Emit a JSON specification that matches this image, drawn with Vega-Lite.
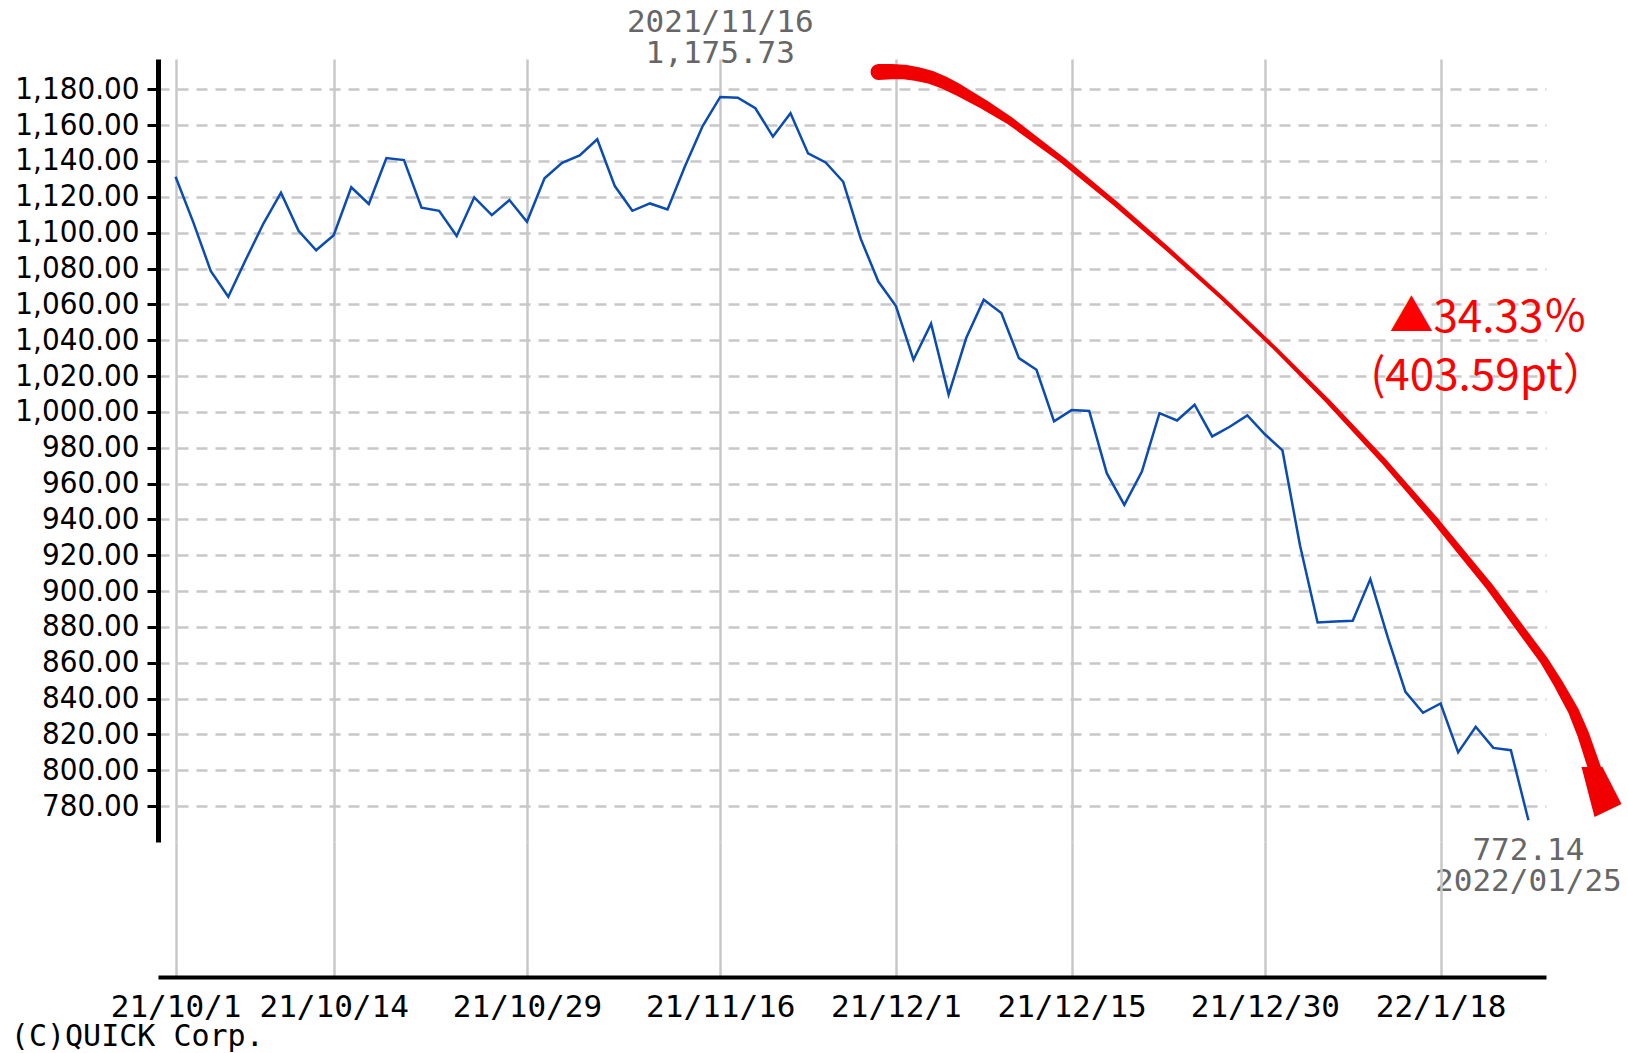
{
  "$schema": "https://vega.github.io/schema/vega-lite/v6.json",
  "background": "white",
  "padding": {"left": 10, "top": 6, "right": 0, "bottom": 0},
  "config": {"view": {"stroke": null}},
  "title": {"text": "(C)QUICK Corp.", "orient": "bottom", "anchor": "start", "frame": "bounds", "font": "DejaVu Sans Mono", "fontSize": 30, "fontWeight": "normal", "color": "black", "offset": 0, "dx": -4},
  "data": {"values": [
    {"d": "21/10/1", "v": 1131.2}, {"d": "21/10/4", "v": 1106}, {"d": "21/10/5", "v": 1078.7}, {"d": "21/10/6", "v": 1064.2},
    {"d": "21/10/7", "v": 1085}, {"d": "21/10/8", "v": 1105.1}, {"d": "21/10/11", "v": 1122.3}, {"d": "21/10/12", "v": 1101},
    {"d": "21/10/13", "v": 1090.2}, {"d": "21/10/14", "v": 1098.6}, {"d": "21/10/15", "v": 1125.3}, {"d": "21/10/18", "v": 1116},
    {"d": "21/10/19", "v": 1141.6}, {"d": "21/10/20", "v": 1140.5}, {"d": "21/10/21", "v": 1113.9}, {"d": "21/10/22", "v": 1112.2},
    {"d": "21/10/25", "v": 1098.1}, {"d": "21/10/26", "v": 1119.7}, {"d": "21/10/27", "v": 1109.8}, {"d": "21/10/28", "v": 1118.2},
    {"d": "21/10/29", "v": 1106.1}, {"d": "21/11/1", "v": 1130.3}, {"d": "21/11/2", "v": 1139}, {"d": "21/11/4", "v": 1143.1},
    {"d": "21/11/5", "v": 1152.1}, {"d": "21/11/8", "v": 1126}, {"d": "21/11/9", "v": 1112.2}, {"d": "21/11/10", "v": 1116.3},
    {"d": "21/11/11", "v": 1113}, {"d": "21/11/12", "v": 1137.2}, {"d": "21/11/15", "v": 1159.5}, {"d": "21/11/16", "v": 1175.73},
    {"d": "21/11/17", "v": 1175.3}, {"d": "21/11/18", "v": 1169.4}, {"d": "21/11/19", "v": 1153.6}, {"d": "21/11/22", "v": 1166.6},
    {"d": "21/11/24", "v": 1144.2}, {"d": "21/11/25", "v": 1139.2}, {"d": "21/11/26", "v": 1128.4}, {"d": "21/11/29", "v": 1096.5},
    {"d": "21/11/30", "v": 1072.7}, {"d": "21/12/1", "v": 1059}, {"d": "21/12/2", "v": 1029.1}, {"d": "21/12/3", "v": 1049.2},
    {"d": "21/12/6", "v": 1009.6}, {"d": "21/12/7", "v": 1041.2}, {"d": "21/12/8", "v": 1062.6}, {"d": "21/12/9", "v": 1055.2},
    {"d": "21/12/10", "v": 1030}, {"d": "21/12/13", "v": 1023.5}, {"d": "21/12/14", "v": 994.7}, {"d": "21/12/15", "v": 1001},
    {"d": "21/12/16", "v": 1000.5}, {"d": "21/12/17", "v": 965.8}, {"d": "21/12/20", "v": 948.1}, {"d": "21/12/21", "v": 966.7},
    {"d": "21/12/22", "v": 999.3}, {"d": "21/12/23", "v": 995.2}, {"d": "21/12/24", "v": 1004}, {"d": "21/12/27", "v": 986.3},
    {"d": "21/12/28", "v": 991.7}, {"d": "21/12/29", "v": 998}, {"d": "21/12/30", "v": 987.5}, {"d": "22/1/4", "v": 978.5},
    {"d": "22/1/5", "v": 925.4}, {"d": "22/1/6", "v": 882.5}, {"d": "22/1/7", "v": 883}, {"d": "22/1/11", "v": 883.4},
    {"d": "22/1/12", "v": 906.7}, {"d": "22/1/13", "v": 874}, {"d": "22/1/14", "v": 843.8}, {"d": "22/1/17", "v": 832.1},
    {"d": "22/1/18", "v": 837.3}, {"d": "22/1/19", "v": 810}, {"d": "22/1/20", "v": 824.3}, {"d": "22/1/21", "v": 812.5},
    {"d": "22/1/24", "v": 811.2}, {"d": "22/1/25", "v": 772.14}
  ]},
  "datasets": {
    "arrow": [
      {"s": 0, "x": 40.01, "y": 1189.65}, {"s": 1, "x": 40.75, "y": 1189.88}, {"s": 2, "x": 41.49, "y": 1189.65},
      {"s": 3, "x": 42.23, "y": 1188.43}, {"s": 4, "x": 42.97, "y": 1186.75}, {"s": 5, "x": 43.74, "y": 1183.74},
      {"s": 6, "x": 44.5, "y": 1179.94}, {"s": 7, "x": 46.01, "y": 1171.52}, {"s": 8, "x": 47.52, "y": 1162.2},
      {"s": 9, "x": 50.48, "y": 1140.44}, {"s": 10, "x": 53.5, "y": 1116.16}, {"s": 11, "x": 56.51, "y": 1090.43},
      {"s": 12, "x": 59.53, "y": 1063.82}, {"s": 13, "x": 62.55, "y": 1035.69}, {"s": 14, "x": 65.56, "y": 1006.12},
      {"s": 15, "x": 68.69, "y": 973.3}, {"s": 16, "x": 71.6, "y": 940.55}, {"s": 17, "x": 74.73, "y": 903.1},
      {"s": 18, "x": 77.86, "y": 861.64}, {"s": 19, "x": 78.71, "y": 848.14}, {"s": 20, "x": 79.56, "y": 833.18},
      {"s": 21, "x": 80.13, "y": 819.67}, {"s": 22, "x": 80.76, "y": 801.26}
    ],
    "head": [{"x": 81.16, "y": 787.87}],
    "note": [
      {"x": 74.72, "y": 1051.8, "t": "▲34.33％"},
      {"x": 74.73, "y": 1019.45, "t": "(403.59pt）"}
    ]
  },
  "spacing": 0,
  "bounds": "flush",
  "vconcat": [
    {
      "width": 1388,
      "height": 783,
      "layer": [
        {
          "encoding": {
            "x": {"field": "d", "type": "ordinal", "sort": null, "scale": {"type": "point", "padding": 1},
              "axis": {"labels": false, "ticks": false, "domain": false, "grid": true, "gridColor": "#c8c8c8", "gridWidth": 2.5, "title": null,
                "values": ["21/10/1", "21/10/14", "21/10/29", "21/11/16", "21/12/1", "21/12/15", "21/12/30", "22/1/18"]}},
            "y": {"field": "v", "type": "quantitative", "scale": {"domain": [760, 1196.9], "nice": false, "zero": false},
              "axis": {"values": [780, 800, 820, 840, 860, 880, 900, 920, 940, 960, 980, 1000, 1020, 1040, 1060, 1080, 1100, 1120, 1140, 1160, 1180],
                "format": ",.2f", "title": null, "domain": true, "domainColor": "black", "domainWidth": 5,
                "ticks": true, "tickColor": "black", "tickWidth": 3, "tickSize": 11, "labelPadding": 8,
                "labelFont": "DejaVu Sans Condensed, DejaVu Sans", "labelFontSize": 31, "labelColor": "black", "labelOverlap": false, "labelFlush": false,
                "grid": true, "gridColor": "#c8c8c8", "gridDash": [11, 8], "gridWidth": 2.5}}
          },
          "layer": [
            {"mark": {"type": "line", "color": "#0a4bb4", "strokeWidth": 2.5}},
            {"mark": {"type": "text", "dy": -74, "font": "DejaVu Sans Mono", "fontSize": 31, "color": "#666666", "align": "center", "baseline": "middle"},
              "encoding": {"text": {"condition": {"test": "datum.d == '21/11/16'", "value": "2021/11/16"}, "value": ""}}},
            {"mark": {"type": "text", "dy": -43, "font": "DejaVu Sans Mono", "fontSize": 31, "color": "#666666", "align": "center", "baseline": "middle"},
              "encoding": {"text": {"condition": {"test": "datum.d == '21/11/16'", "field": "v", "type": "quantitative", "format": ",.2f"}, "value": ""}}},
            {"mark": {"type": "text", "dy": 31, "font": "DejaVu Sans Mono", "fontSize": 31, "color": "#666666", "align": "center", "baseline": "middle"},
              "encoding": {"text": {"condition": {"test": "datum.d == '22/1/25'", "field": "v", "type": "quantitative", "format": ",.2f"}, "value": ""}}},
            {"mark": {"type": "text", "dy": 62, "font": "DejaVu Sans Mono", "fontSize": 31, "color": "#666666", "align": "center", "baseline": "middle"},
              "encoding": {"text": {"condition": {"test": "datum.d == '22/1/25'", "value": "2022/01/25"}, "value": ""}}}
          ]
        },
        {
          "encoding": {
            "x": {"field": "x", "type": "quantitative", "scale": {"domain": [-1, 78], "nice": false, "zero": false}, "axis": null},
            "y": {"field": "y", "type": "quantitative", "scale": {"domain": [760, 1196.9], "nice": false, "zero": false},
              "axis": {"values": [780, 800, 820, 840, 860, 880, 900, 920, 940, 960, 980, 1000, 1020, 1040, 1060, 1080, 1100, 1120, 1140, 1160, 1180],
                "format": ",.2f", "title": null, "domain": true, "domainColor": "black", "domainWidth": 5,
                "ticks": true, "tickColor": "black", "tickWidth": 3, "tickSize": 11, "labelPadding": 8,
                "labelFont": "DejaVu Sans Condensed, DejaVu Sans", "labelFontSize": 31, "labelColor": "black", "labelOverlap": false, "labelFlush": false,
                "grid": true, "gridColor": "#c8c8c8", "gridDash": [11, 8], "gridWidth": 2.5}}
          },
          "layer": [
            {"data": {"name": "arrow"},
              "mark": {"type": "trail", "color": "#f00000"},
              "encoding": {
                "order": {"field": "s", "type": "quantitative"},
                "size": {"field": "s", "type": "quantitative", "legend": null,
                  "scale": {"domain": [0, 6, 9, 12.5, 17, 22], "range": [16, 12, 6, 3.5, 7.5, 13]}}
              }},
            {"data": {"name": "head"},
              "mark": {"type": "point", "shape": "M-0.8,-1L-0.28,1L0.8,0.48L0.04,-1Z", "filled": true, "size": 2500, "color": "#f00000", "opacity": 1, "strokeWidth": 0}},
            {"data": {"name": "note"},
              "mark": {"type": "text", "font": "Noto Sans CJK JP", "fontSize": 44, "color": "#ff0000", "align": "center", "baseline": "middle"},
              "encoding": {"text": {"field": "t", "type": "nominal"}}}
          ]
        }
      ],
      "resolve": {"scale": {"x": "independent"}}
    },
    {
      "width": 1388,
      "height": 135,
      "mark": {"type": "point", "opacity": 0},
      "encoding": {
        "x": {"field": "d", "type": "ordinal", "sort": null, "scale": {"type": "point", "padding": 1},
          "axis": {"values": ["21/10/1", "21/10/14", "21/10/29", "21/11/16", "21/12/1", "21/12/15", "21/12/30", "22/1/18"],
            "title": null, "labelAngle": 0, "domain": true, "domainColor": "black", "domainWidth": 4,
            "ticks": false, "tickSize": 0, "labelPadding": 15, "labelFont": "DejaVu Sans Mono", "labelFontSize": 31, "labelColor": "black",
            "labelOverlap": false, "labelFlush": false, "labelBound": false,
            "grid": true, "gridColor": "#c8c8c8", "gridWidth": 2.5}}
      }
    }
  ]
}
